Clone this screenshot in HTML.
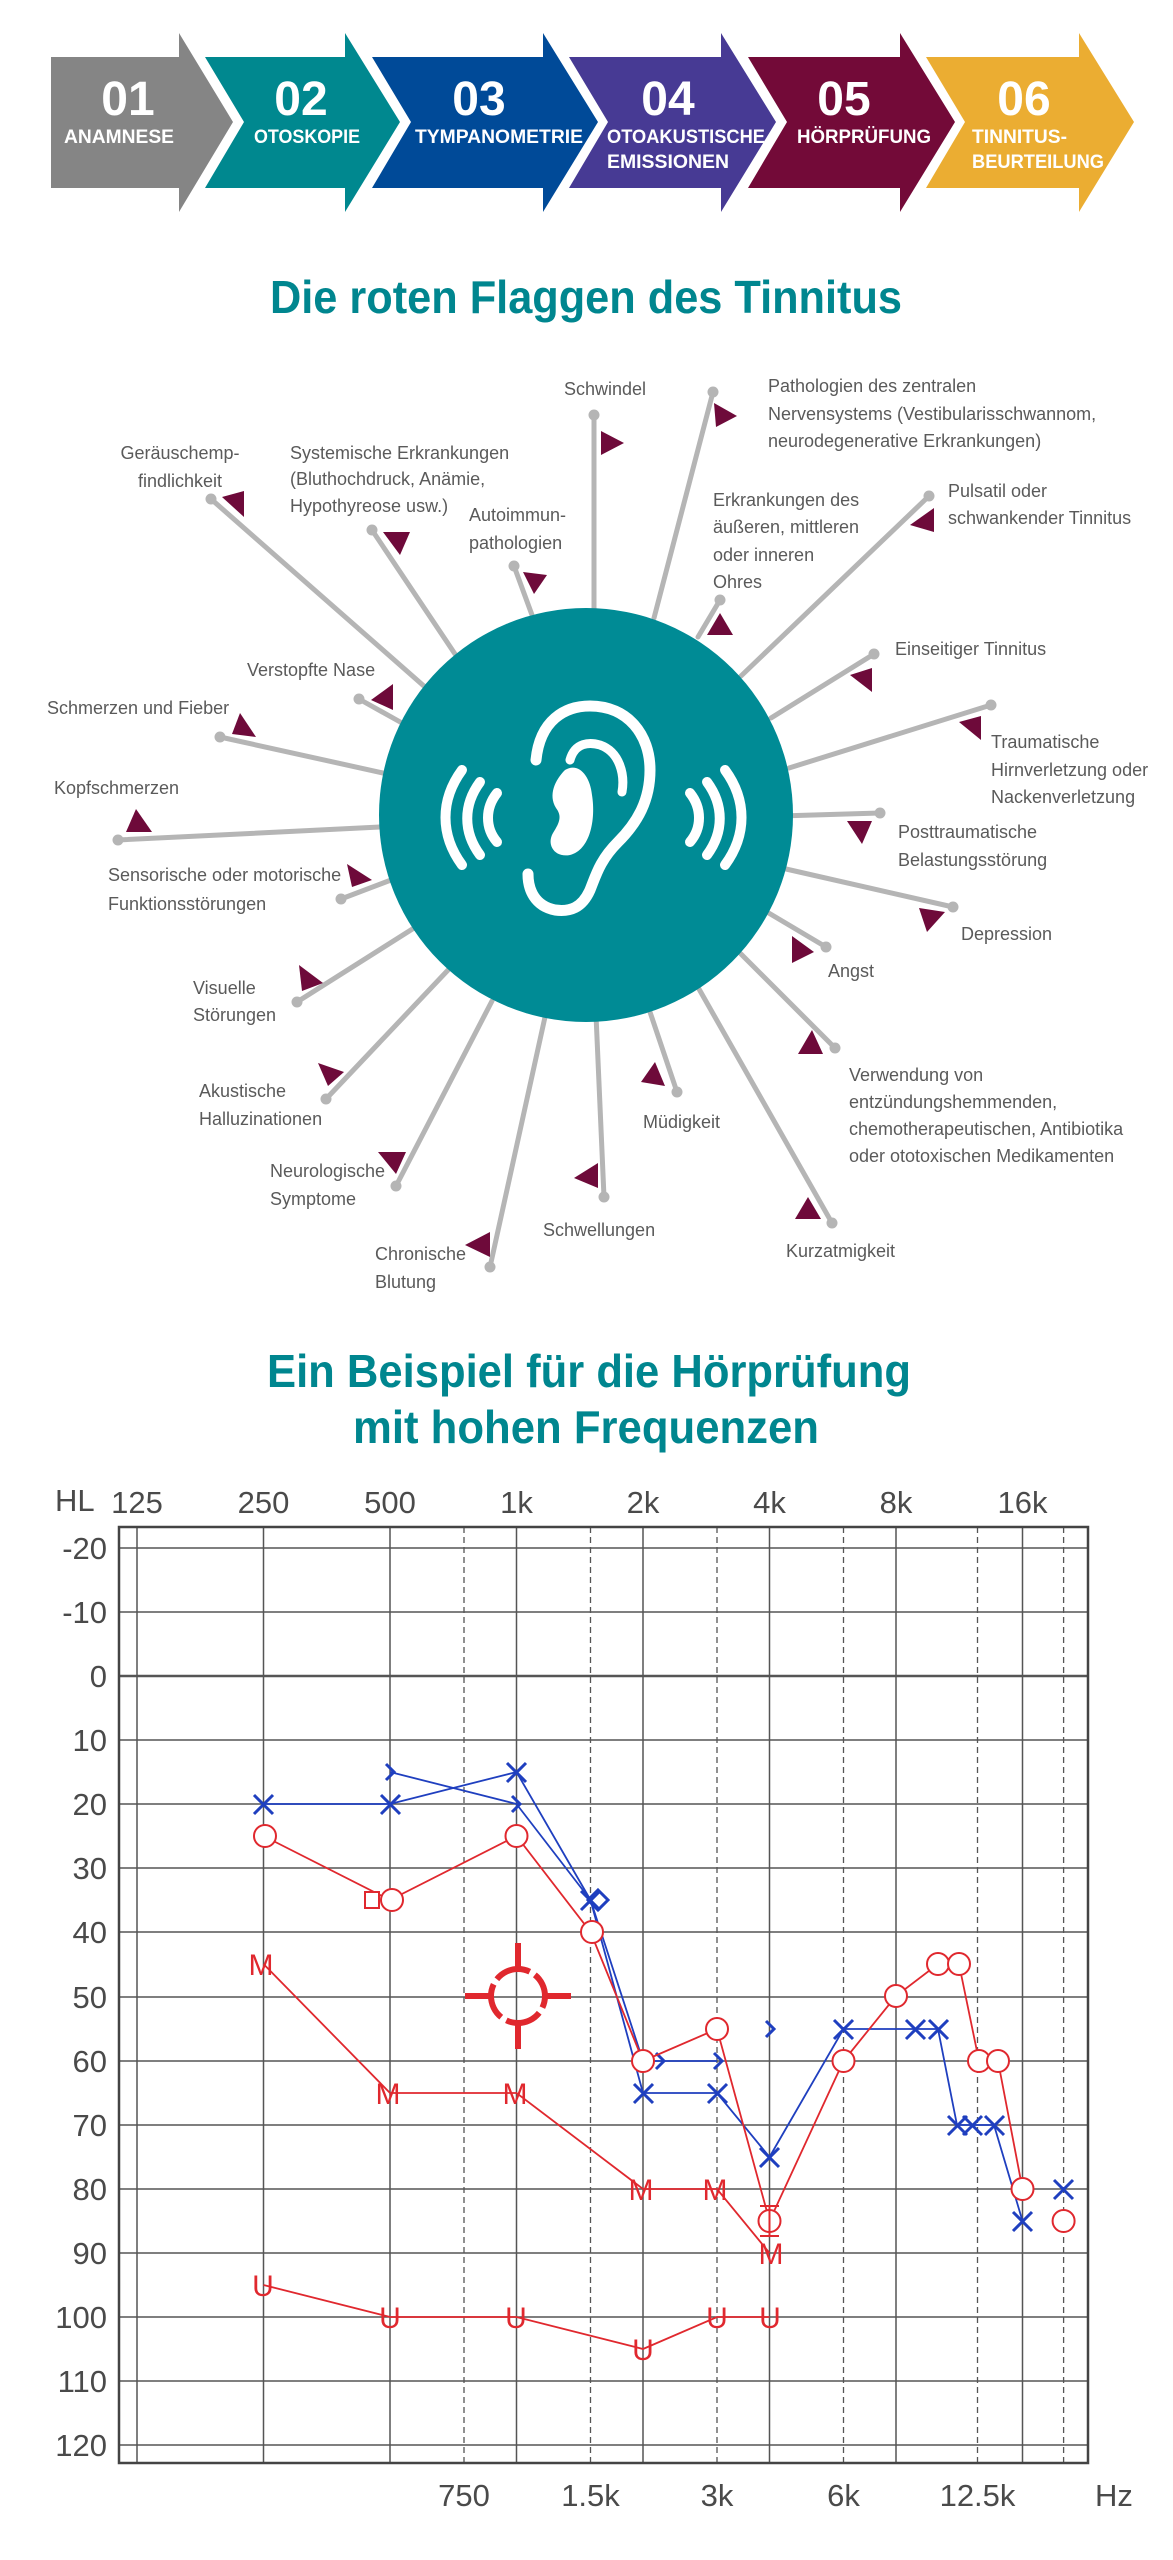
<!DOCTYPE html>
<html><head><meta charset="utf-8"><style>html,body{margin:0;padding:0;background:#fff}svg{display:block}</style></head><body>
<svg width="1173" height="2560" viewBox="0 0 1173 2560" xmlns="http://www.w3.org/2000/svg" font-family="Liberation Sans, sans-serif">
<!-- Arrows -->
<polygon points="51,57 179,57 179,33 233,122 179,212 179,188 51,188" fill="#858585"/>
<polygon points="205,57 345,57 345,33 400,122 345,212 345,188 205,188 244,122" fill="#00888f"/>
<polygon points="372,57 543,57 543,33 598,122 543,212 543,188 372,188 411,122" fill="#004a98"/>
<polygon points="569,57 721,57 721,33 776,122 721,212 721,188 569,188 608,122" fill="#473a94"/>
<polygon points="748,57 900,57 900,33 955,122 900,212 900,188 748,188 787,122" fill="#730a38"/>
<polygon points="926,57 1079,57 1079,33 1134,122 1079,212 1079,188 926,188 965,122" fill="#ebad32"/>
<g fill="#fff" font-weight="bold" font-size="48" text-anchor="middle">
<text x="128" y="115">01</text><text x="301" y="115">02</text><text x="479" y="115">03</text><text x="668" y="115">04</text><text x="844" y="115">05</text><text x="1024" y="115">06</text>
</g>
<g fill="#fff" font-weight="bold" font-size="19">
<text x="119" y="143" text-anchor="middle" textLength="110" lengthAdjust="spacingAndGlyphs">ANAMNESE</text>
<text x="307" y="143" text-anchor="middle" textLength="106" lengthAdjust="spacingAndGlyphs">OTOSKOPIE</text>
<text x="415" y="143" textLength="168" lengthAdjust="spacingAndGlyphs">TYMPANOMETRIE</text>
<text x="607" y="143" textLength="158" lengthAdjust="spacingAndGlyphs">OTOAKUSTISCHE</text>
<text x="607" y="168" textLength="122" lengthAdjust="spacingAndGlyphs">EMISSIONEN</text>
<text x="797" y="143" textLength="134" lengthAdjust="spacingAndGlyphs">HÖRPRÜFUNG</text>
<text x="972" y="143" textLength="95" lengthAdjust="spacingAndGlyphs">TINNITUS-</text>
<text x="972" y="168" textLength="132" lengthAdjust="spacingAndGlyphs">BEURTEILUNG</text>
</g>
<text x="270" y="313" font-size="46" font-weight="bold" fill="#00868f" textLength="632" lengthAdjust="spacingAndGlyphs">Die roten Flaggen des Tinnitus</text>

<!-- spokes -->
<g stroke="#b5b5b5" stroke-width="5" stroke-linecap="round">
<line x1="594" y1="415" x2="594" y2="620"/>
<line x1="713" y1="392" x2="654" y2="618"/>
<line x1="211" y1="499" x2="425" y2="687"/>
<line x1="372" y1="530" x2="455" y2="654"/>
<line x1="514" y1="566" x2="532" y2="615"/>
<line x1="720" y1="600" x2="698" y2="637"/>
<line x1="929" y1="496" x2="741" y2="676"/>
<line x1="874" y1="654" x2="771" y2="718"/>
<line x1="991" y1="705" x2="789" y2="768"/>
<line x1="880" y1="813" x2="780" y2="816"/>
<line x1="359" y1="699" x2="402" y2="723"/>
<line x1="220" y1="737" x2="383" y2="773"/>
<line x1="118" y1="840" x2="380" y2="827"/>
<line x1="341" y1="899" x2="391" y2="880"/>
<line x1="953" y1="907" x2="786" y2="869"/>
<line x1="826" y1="947" x2="767" y2="912"/>
<line x1="297" y1="1002" x2="414" y2="928"/>
<line x1="326" y1="1099" x2="449" y2="969"/>
<line x1="396" y1="1186" x2="492" y2="1001"/>
<line x1="490" y1="1267" x2="545" y2="1017"/>
<line x1="604" y1="1197" x2="596" y2="1015"/>
<line x1="677" y1="1092" x2="650" y2="1012"/>
<line x1="835" y1="1048" x2="741" y2="954"/>
<line x1="832" y1="1223" x2="699" y2="989"/>
</g>
<g fill="#b5b5b5">
<circle cx="594" cy="415" r="5.5"/><circle cx="713" cy="392" r="5.5"/><circle cx="211" cy="499" r="5.5"/><circle cx="372" cy="530" r="5.5"/><circle cx="514" cy="566" r="5.5"/><circle cx="720" cy="600" r="5.5"/><circle cx="929" cy="496" r="5.5"/><circle cx="874" cy="654" r="5.5"/><circle cx="991" cy="705" r="5.5"/><circle cx="880" cy="813" r="5.5"/><circle cx="359" cy="699" r="5.5"/><circle cx="220" cy="737" r="5.5"/><circle cx="118" cy="840" r="5.5"/><circle cx="341" cy="899" r="5.5"/><circle cx="953" cy="907" r="5.5"/><circle cx="826" cy="947" r="5.5"/><circle cx="297" cy="1002" r="5.5"/><circle cx="326" cy="1099" r="5.5"/><circle cx="396" cy="1186" r="5.5"/><circle cx="490" cy="1267" r="5.5"/><circle cx="604" cy="1197" r="5.5"/><circle cx="677" cy="1092" r="5.5"/><circle cx="835" cy="1048" r="5.5"/><circle cx="832" cy="1223" r="5.5"/>
</g>
<circle cx="586" cy="815" r="207" fill="#008b95"/>
<!-- ear -->
<g fill="none" stroke="#fff" stroke-linecap="round" stroke-width="11">
<path d="M536,760 C540,720 565,706 590,706 C628,706 650,735 650,770 C650,800 638,822 618,842 C600,860 596,875 590,890 C582,908 570,912 555,910 C535,906 528,890 528,874"/>
<path d="M570,760 C575,742 590,742 600,745 C620,752 625,775 622,792" stroke-width="9"/>
<path d="M462,770 C440,800 440,835 462,865" stroke-width="10"/>
<path d="M480,782 C463,805 463,832 480,855" stroke-width="10"/>
<path d="M497,793 C485,808 485,828 497,842" stroke-width="10"/>
<path d="M725,770 C747,800 747,835 725,865" stroke-width="10"/>
<path d="M707,782 C724,805 724,832 707,855" stroke-width="10"/>
<path d="M690,793 C702,808 702,828 690,842" stroke-width="10"/>
</g>
<path d="M565,770 C555,780 548,795 556,808 C562,816 560,822 553,833 C546,845 555,858 570,855 C590,850 596,820 592,795 C590,775 578,762 565,770 Z" fill="#fff"/>

<!-- flags -->
<g fill="#6e0a3a">
<polygon points="601,431 624,443 601,455"/>
<polygon points="714,403 737,416 716,427"/>
<polygon points="222,497 244,491 244,517"/>
<polygon points="383,532 410,532 400,555"/>
<polygon points="523,572 547,575 534,594"/>
<polygon points="720,613 733,635 707,635"/>
<polygon points="934,508 934,532 910,525"/>
<polygon points="872,668 872,692 850,675"/>
<polygon points="981,716 981,740 959,722"/>
<polygon points="847,821 872,821 862,844"/>
<polygon points="393,684 393,710 371,700"/>
<polygon points="240,713 256,737 232,734"/>
<polygon points="136,809 152,832 126,832"/>
<polygon points="347,864 372,880 352,887"/>
<polygon points="919,908 945,912 927,932"/>
<polygon points="792,936 814,952 792,963"/>
<polygon points="299,965 323,983 302,991"/>
<polygon points="318,1063 344,1072 328,1086"/>
<polygon points="378,1152 406,1152 396,1174"/>
<polygon points="490,1232 490,1257 465,1245"/>
<polygon points="598,1163 598,1188 574,1178"/>
<polygon points="655,1062 665,1086 641,1082"/>
<polygon points="812,1030 823,1054 798,1054"/>
<polygon points="808,1197 821,1219 795,1219"/>
</g>
<!-- labels -->
<g fill="#5a5a5a" font-size="18">
<text x="564" y="395">Schwindel</text>
<text x="768" y="392">Pathologien des zentralen</text>
<text x="768" y="420">Nervensystems (Vestibularisschwannom,</text>
<text x="768" y="447">neurodegenerative Erkrankungen)</text>
<text x="180" y="459" text-anchor="middle">Geräuschemp-</text>
<text x="180" y="487" text-anchor="middle">findlichkeit</text>
<text x="290" y="459">Systemische Erkrankungen</text>
<text x="290" y="485">(Bluthochdruck, Anämie,</text>
<text x="290" y="512">Hypothyreose usw.)</text>
<text x="469" y="521">Autoimmun-</text>
<text x="469" y="549">pathologien</text>
<text x="713" y="506">Erkrankungen des</text>
<text x="713" y="533">äußeren, mittleren</text>
<text x="713" y="561">oder inneren</text>
<text x="713" y="588">Ohres</text>
<text x="948" y="497">Pulsatil oder</text>
<text x="948" y="524">schwankender Tinnitus</text>
<text x="895" y="655">Einseitiger Tinnitus</text>
<text x="991" y="748">Traumatische</text>
<text x="991" y="776">Hirnverletzung oder</text>
<text x="991" y="803">Nackenverletzung</text>
<text x="898" y="838">Posttraumatische</text>
<text x="898" y="866">Belastungsstörung</text>
<text x="247" y="676">Verstopfte Nase</text>
<text x="47" y="714">Schmerzen und Fieber</text>
<text x="54" y="794">Kopfschmerzen</text>
<text x="108" y="881">Sensorische oder motorische</text>
<text x="108" y="910">Funktionsstörungen</text>
<text x="961" y="940">Depression</text>
<text x="828" y="977">Angst</text>
<text x="193" y="994">Visuelle</text>
<text x="193" y="1021">Störungen</text>
<text x="199" y="1097">Akustische</text>
<text x="199" y="1125">Halluzinationen</text>
<text x="270" y="1177">Neurologische</text>
<text x="270" y="1205">Symptome</text>
<text x="375" y="1260">Chronische</text>
<text x="375" y="1288">Blutung</text>
<text x="543" y="1236">Schwellungen</text>
<text x="643" y="1128">Müdigkeit</text>
<text x="849" y="1081">Verwendung von</text>
<text x="849" y="1108">entzündungshemmenden,</text>
<text x="849" y="1135">chemotherapeutischen, Antibiotika</text>
<text x="849" y="1162">oder ototoxischen Medikamenten</text>
<text x="786" y="1257">Kurzatmigkeit</text>
</g>
<text x="267" y="1387" font-size="46" font-weight="bold" fill="#00868f" textLength="644" lengthAdjust="spacingAndGlyphs">Ein Beispiel für die Hörprüfung</text>
<text x="353" y="1443" font-size="46" font-weight="bold" fill="#00868f" textLength="466" lengthAdjust="spacingAndGlyphs">mit hohen Frequenzen</text>

<!-- chart grid -->
<g stroke="#555" stroke-width="1.5">
<line x1="119" y1="1548" x2="1088" y2="1548"/><line x1="119" y1="1612" x2="1088" y2="1612"/><line x1="119" y1="1676" x2="1088" y2="1676" stroke-width="2.5"/><line x1="119" y1="1740" x2="1088" y2="1740"/><line x1="119" y1="1804" x2="1088" y2="1804"/><line x1="119" y1="1868" x2="1088" y2="1868"/><line x1="119" y1="1932" x2="1088" y2="1932"/><line x1="119" y1="1997" x2="1088" y2="1997"/><line x1="119" y1="2061" x2="1088" y2="2061"/><line x1="119" y1="2125" x2="1088" y2="2125"/><line x1="119" y1="2189" x2="1088" y2="2189"/><line x1="119" y1="2253" x2="1088" y2="2253"/><line x1="119" y1="2317" x2="1088" y2="2317"/><line x1="119" y1="2381" x2="1088" y2="2381"/><line x1="119" y1="2445" x2="1088" y2="2445"/>
<line x1="137" y1="1527" x2="137" y2="2463"/><line x1="263.5" y1="1527" x2="263.5" y2="2463"/><line x1="390" y1="1527" x2="390" y2="2463"/><line x1="516.5" y1="1527" x2="516.5" y2="2463"/><line x1="643" y1="1527" x2="643" y2="2463"/><line x1="769.5" y1="1527" x2="769.5" y2="2463"/><line x1="896" y1="1527" x2="896" y2="2463"/><line x1="1022.5" y1="1527" x2="1022.5" y2="2463"/>
</g>
<g stroke="#555" stroke-width="1.3" stroke-dasharray="6,4">
<line x1="464" y1="1527" x2="464" y2="2463"/><line x1="590.5" y1="1527" x2="590.5" y2="2463"/><line x1="717" y1="1527" x2="717" y2="2463"/><line x1="843.5" y1="1527" x2="843.5" y2="2463"/><line x1="977.5" y1="1527" x2="977.5" y2="2463"/><line x1="1063.6" y1="1527" x2="1063.6" y2="2463"/>
</g>
<rect x="119" y="1527" width="969" height="936" fill="none" stroke="#444" stroke-width="2.5"/>
<g fill="#4a4a4a" font-size="31">
<text x="55" y="1511">HL</text>
<g text-anchor="middle">
<text x="137" y="1513">125</text><text x="263.5" y="1513">250</text><text x="390" y="1513">500</text><text x="516.5" y="1513">1k</text><text x="643" y="1513">2k</text><text x="769.5" y="1513">4k</text><text x="896" y="1513">8k</text><text x="1022.5" y="1513">16k</text>
<text x="464" y="2506">750</text><text x="590.5" y="2506">1.5k</text><text x="717" y="2506">3k</text><text x="843.5" y="2506">6k</text><text x="977.5" y="2506">12.5k</text><text x="1114" y="2506">Hz</text>
</g>
<g text-anchor="end">
<text x="107" y="1559">-20</text><text x="107" y="1623">-10</text><text x="107" y="1687">0</text><text x="107" y="1751">10</text><text x="107" y="1815">20</text><text x="107" y="1879">30</text><text x="107" y="1943">40</text><text x="107" y="2008">50</text><text x="107" y="2072">60</text><text x="107" y="2136">70</text><text x="107" y="2200">80</text><text x="107" y="2264">90</text><text x="107" y="2328">100</text><text x="107" y="2392">110</text><text x="107" y="2456">120</text>
</g>
</g>

<!-- blue series -->
<g stroke="#1f3fbf" stroke-width="1.8" fill="none">
<polyline points="263.5,1804 390,1804 516.5,1772 590.5,1900 643,2093 717,2093 769.5,2157 843.5,2029 915,2029 938,2029 957,2125 972,2125 994,2125 1022.5,2221"/>
<polyline points="390,1772 516.5,1804 590.5,1900 643,2061 717,2061"/>
</g>
<g stroke="#1f3fbf" stroke-width="3" fill="none">
<path d="M254,1795l19,19m0,-19l-19,19"/><path d="M381,1795l19,19m0,-19l-19,19"/><path d="M507,1763l19,19m0,-19l-19,19"/><path d="M581,1891l19,19m0,-19l-19,19"/><path d="M634,2084l19,19m0,-19l-19,19"/><path d="M708,2084l19,19m0,-19l-19,19"/><path d="M760,2148l19,19m0,-19l-19,19"/><path d="M834,2020l19,19m0,-19l-19,19"/><path d="M906,2020l19,19m0,-19l-19,19"/><path d="M929,2020l19,19m0,-19l-19,19"/><path d="M948,2116l19,19m0,-19l-19,19"/><path d="M963,2116l19,19m0,-19l-19,19"/><path d="M985,2116l19,19m0,-19l-19,19"/><path d="M1013,2212l19,19m0,-19l-19,19"/><path d="M1054,2180l19,19m0,-19l-19,19"/>
<path d="M386,1764l8,8l-8,8"/><path d="M512,1796l8,8l-8,8"/><path d="M656,2053l8,8l-8,8"/><path d="M714,2053l8,8l-8,8"/><path d="M766,2021l8,8l-8,8"/>
<path d="M598,1890l10,10l-10,10l-10,-10z"/>
</g>
<!-- red series -->
<g stroke="#e0282e" stroke-width="1.8" fill="none">
<polyline points="263.5,1836 390,1900 516.5,1836 590.5,1932 643,2061 717,2029 769.5,2221 843.5,2061 896,1996 938,1964 959,1964 979,2061 998,2061 1022.5,2189"/>
<polyline points="263.5,1964 390,2093 516.5,2093 643,2189 717,2189 769.5,2253"/>
<polyline points="263.5,2285 390,2317 516.5,2317 643,2349 717,2317 769.5,2317"/>
</g>
<g stroke="#e0282e" stroke-width="2" fill="#fff">
<circle cx="265" cy="1836" r="11"/><circle cx="392" cy="1900" r="11"/><rect x="365" y="1892" width="14" height="16"/><circle cx="516.5" cy="1836" r="11"/><circle cx="592" cy="1932" r="11"/><circle cx="643" cy="2061" r="11"/><circle cx="717" cy="2029" r="11"/><circle cx="769.5" cy="2221" r="11"/><circle cx="843.5" cy="2061" r="11"/><circle cx="896" cy="1996" r="11"/><circle cx="938" cy="1964" r="11"/><circle cx="959" cy="1964" r="11"/><circle cx="979" cy="2061" r="11"/><circle cx="998" cy="2061" r="11"/><circle cx="1022.5" cy="2189" r="11"/><circle cx="1063.6" cy="2221" r="11"/>
<path d="M760,2206h19M769.5,2206v30M760,2236h19" fill="none"/>
</g>
<g fill="#e0282e" font-size="30" text-anchor="middle">
<text x="261" y="1975">M</text><text x="388" y="2104">M</text><text x="515" y="2104">M</text><text x="641" y="2200">M</text><text x="715" y="2200">M</text><text x="771" y="2264">M</text>
<text x="263" y="2296">U</text><text x="390" y="2328">U</text><text x="516" y="2328">U</text><text x="643" y="2360">U</text><text x="717" y="2328">U</text><text x="770" y="2328">U</text>
</g>
<g stroke="#e0282e" stroke-width="6" fill="none">
<circle cx="518" cy="1996" r="27" stroke-dasharray="36.4,6" stroke-dashoffset="-18"/>
<path d="M518,1969v-26M518,2023v26M491,1996h-26M545,1996h26"/>
</g>
</svg>
</body></html>
